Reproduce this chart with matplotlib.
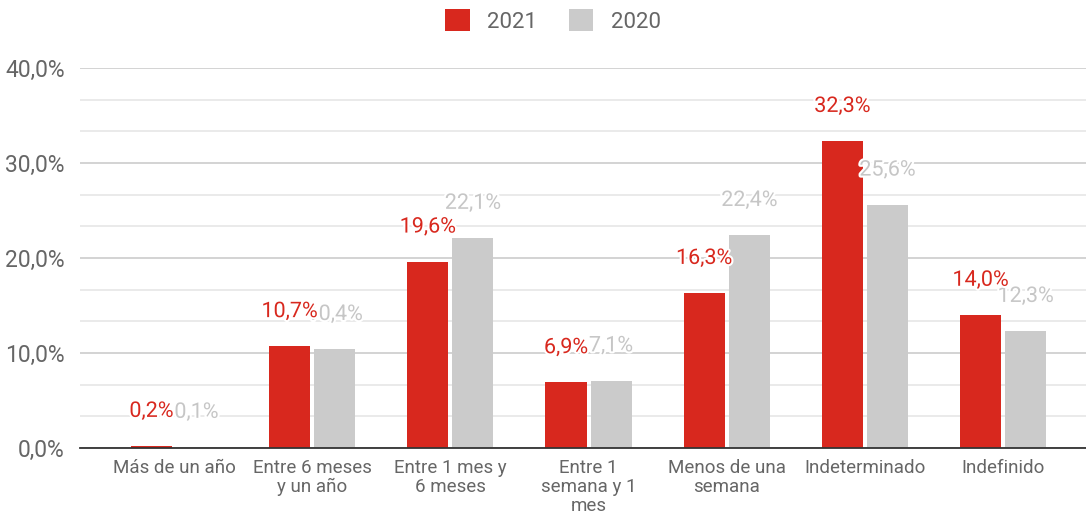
import matplotlib
matplotlib.use("Agg")
import matplotlib.pyplot as plt
import matplotlib.patheffects as pe
from matplotlib.ticker import MultipleLocator, FuncFormatter
from matplotlib.patches import Patch
import numpy as np

categories = ["Más de un año", "Entre 6 meses\ny un año", "Entre 1 mes y\n6 meses",
              "Entre 1\nsemana y 1\nmes", "Menos de una\nsemana", "Indeterminado", "Indefinido"]
values_2021 = [0.2, 10.7, 19.6, 6.9, 16.3, 32.3, 14.0]
values_2020 = [0.1, 10.4, 22.1, 7.1, 22.4, 25.6, 12.3]
series_names = ["2021", "2020"]

RED = "#d8281e"
GRAY = "#cbcbcb"
LABEL_GRAY = "#c6c6c6"
TEXT = "#666666"

plt.rcParams['font.family'] = ['Roboto', 'DejaVu Sans']

fig = plt.figure(figsize=(10.86, 5.14), dpi=100)
ax = fig.add_axes([80/1086, 66/514, 1 - 80/1086, (448-68)/514])

x = np.arange(len(categories))
w = 0.297
off = 0.163
ax.bar(x - off, values_2021, width=w, color=RED, zorder=3)
ax.bar(x + off, values_2020, width=w, color=GRAY, zorder=3)

def fmt(v):
    return f"{v:.1f}".replace(".", ",") + "%"

stroke = [pe.withStroke(linewidth=3, foreground="white")]
for xi, v in zip(x, values_2021):
    ax.annotate(fmt(v), (xi - off, v), xytext=(0, 25), textcoords="offset points",
                ha="center", va="center", fontsize=15.5, color=RED, zorder=5, path_effects=stroke)
for xi, v in zip(x, values_2020):
    ax.annotate(fmt(v), (xi + off, v), xytext=(0, 25), textcoords="offset points",
                ha="center", va="center", fontsize=15.5, color=LABEL_GRAY, zorder=4, path_effects=stroke)

ax.set_ylim(0, 40)
ax.set_xlim(-0.68, 6.6)
ax.yaxis.set_major_locator(MultipleLocator(10))
ax.yaxis.set_minor_locator(MultipleLocator(10/3))
ax.yaxis.set_major_formatter(FuncFormatter(lambda v, p: f"{v:.1f}".replace(".", ",") + "%"))
ax.grid(axis="y", which="major", color="#cccccc", linewidth=1.2, zorder=0)
ax.grid(axis="y", which="minor", color="#e6e6e6", linewidth=1.2, zorder=0)
ax.set_axisbelow(True)
for s in ["top", "right", "left"]:
    ax.spines[s].set_visible(False)
ax.spines["bottom"].set_color("#333333")
ax.spines["bottom"].set_linewidth(1.3)
ax.spines["bottom"].set_zorder(4)
ax.tick_params(axis="y", which="both", length=0, labelsize=16.5, labelcolor=TEXT, pad=11)
ax.tick_params(axis="x", length=0, labelsize=13.5, labelcolor=TEXT, pad=8)
ax.set_xticks(x)
ax.set_xticklabels(categories, linespacing=1.05, va="top")

handles = [Patch(facecolor=RED, label=series_names[0]), Patch(facecolor=GRAY, label=series_names[1])]
fig.legend(handles=handles, loc="center", bbox_to_anchor=(553/1086, 1 - 21/514), ncol=2,
           frameon=False, fontsize=16, handlelength=1.1, handleheight=1.1,
           columnspacing=1.4, handletextpad=0.8, labelcolor=TEXT)

fig.savefig("out.png", dpi=100)
